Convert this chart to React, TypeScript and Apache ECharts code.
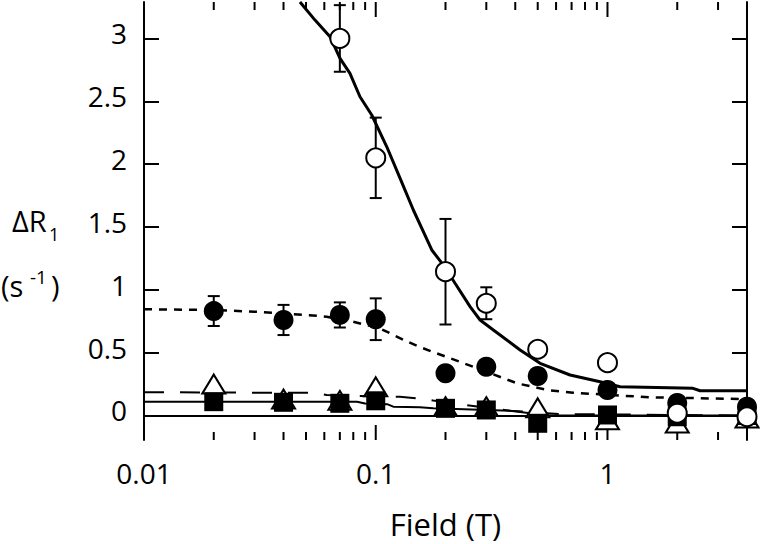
import React, { useEffect, useRef } from "react";
import * as echarts from "echarts";

// ---- axis ticks ----
const yTickValues = [0, 0.5, 1, 1.5, 2, 2.5, 3];
const xMajorTicks = [0.01, 0.1, 1];
const xMinorTicks = [0.02, 0.03, 0.04, 0.05, 0.06, 0.07, 0.08, 0.09, 0.2, 0.3, 0.4, 0.5, 0.6, 0.7, 0.8, 0.9, 2, 3];

// ---- measured points ----
const fieldT = [0.02, 0.04, 0.07, 0.1, 0.2, 0.3, 0.5, 1, 2, 4];
const openX = [0.07, 0.1, 0.2, 0.3, 0.5, 1, 2, 4];
const openY = [3.0, 2.05, 1.144, 0.893, 0.527, 0.42, 0.018, -0.01];
const openErr = [0.265, 0.32, 0.42, 0.127, 0, 0, 0, 0];
const filledY = [0.831, 0.76, 0.8, 0.766, 0.336, 0.388, 0.314, 0.203, 0.1, 0.07];
const filledErr = [0.119, 0.12, 0.1, 0.166, 0, 0, 0, 0, 0, 0];
const squareY = [0.11, 0.105, 0.097, 0.117, 0.057, 0.044, -0.062, 0.004, -0.01, 0.0];
const triangleY = [0.25, 0.13, 0.12, 0.228, 0.07, 0.07, 0.061, -0.034, -0.06, -0.02];

// ---- fitted curves ----
const solidFitX = [0.0471, 0.0547, 0.0635, 0.0701, 0.0774, 0.0855, 0.0961, 0.1116, 0.1274, 0.1453, 0.1745, 0.1958, 0.2199, 0.2553, 0.282, 0.3218, 0.4197, 0.5118, 0.6896, 0.929, 1.133, 2.34, 2.51, 4.0];
const solidFitY = [3.29, 3.146, 3.014, 2.842, 2.722, 2.536, 2.391, 2.138, 1.887, 1.635, 1.317, 1.197, 1.052, 0.866, 0.76, 0.68, 0.521, 0.415, 0.322, 0.269, 0.229, 0.216, 0.197, 0.197];
const dashFitX = [0.01, 0.02, 0.03, 0.05, 0.0614, 0.08, 0.104, 0.136, 0.155, 0.177, 0.238, 0.407, 0.549, 0.711, 1.03, 1.53, 4.0];
const dashFitY = [0.845, 0.84, 0.826, 0.8, 0.786, 0.746, 0.694, 0.59, 0.545, 0.505, 0.418, 0.256, 0.203, 0.181, 0.163, 0.145, 0.13];
const longDashX = [0.01, 0.055, 0.0614, 0.112, 0.127, 0.155, 0.177, 0.29, 0.38, 0.64, 0.78, 4.0];
const longDashY = [0.185, 0.18, 0.163, 0.15, 0.15, 0.135, 0.12, 0.065, 0.038, 0.01, 0.01, 0.0];
const squareFitX = [0.01, 0.083, 0.09, 0.112, 0.119, 0.155, 0.177, 0.38, 0.464, 0.548, 4.0];
const squareFitY = [0.11, 0.11, 0.095, 0.09, 0.07, 0.065, 0.057, 0.038, 0.017, 0.0, 0.0];

const FONT = '"Open Sans", sans-serif';

const zip = (xs: number[], ys: number[]) => xs.map((x, i) => [x, ys[i]]);

export default function App() {
  const ref = useRef<HTMLDivElement>(null);
  useEffect(() => {
    if (!ref.current) return;
    const chart = echarts.init(ref.current, undefined, { renderer: "svg" });

    const errOpen = openX
      .map((x, i) => [x, openY[i] - openErr[i], openY[i] + openErr[i]])
      .filter((_, i) => openErr[i] > 0);
    const errFilled = fieldT
      .map((x, i) => [x, filledY[i] - filledErr[i], filledY[i] + filledErr[i]])
      .filter((_, i) => filledErr[i] > 0);

    const black = "#000";
    const xBase = (pos: string, labels: boolean) => ({
      type: "log",
      logBase: 10,
      min: 0.01,
      max: 4,
      position: pos,
      axisLine: { show: true, lineStyle: { color: black, width: 2 } },
      axisTick: { show: false },
      axisLabel: {
        show: labels,
        customValues: xMajorTicks,
        formatter: (v: number) => String(v),
        color: black,
        fontFamily: FONT,
        fontSize: 28,
        margin: 19,
      },
      splitLine: { show: false },
      minorTick: { show: false },
    });

    const errRender = (params: any, api: any) => {
      const x = api.value(0);
      const lo = api.coord([x, api.value(1)]);
      const hi = api.coord([x, api.value(2)]);
      const w = 6;
      const st = { stroke: black, lineWidth: 2 };
      return {
        type: "group",
        children: [
          { type: "line", shape: { x1: lo[0], y1: lo[1], x2: hi[0], y2: hi[1] }, style: st },
          { type: "line", shape: { x1: lo[0] - w, y1: lo[1], x2: lo[0] + w, y2: lo[1] }, style: st },
          { type: "line", shape: { x1: hi[0] - w, y1: hi[1], x2: hi[0] + w, y2: hi[1] }, style: st },
        ],
      };
    };

    const tickRender = (len: number) => (params: any, api: any) => {
      const cs = params.coordSys;
      const px = api.coord([api.value(0), 1])[0];
      const st = { stroke: black, lineWidth: 2 };
      const yb = cs.y + cs.height;
      return {
        type: "group",
        children: [
          { type: "line", shape: { x1: px, y1: yb, x2: px, y2: yb - len }, style: st },
          { type: "line", shape: { x1: px, y1: cs.y, x2: px, y2: cs.y + len }, style: st },
        ],
      };
    };

    const tickSeries = (vals: number[], len: number) => ({
      type: "custom",
      renderItem: tickRender(len),
      data: vals.map((v) => [v, 1]),
      encode: { x: 0, y: 1 },
      z: 1,
      silent: true,
      clip: false,
    });

    const lineSeries = (data: number[][], type: any, width: number) => ({
      type: "line",
      data,
      showSymbol: false,
      symbol: "none",
      smooth: false,
      lineStyle: { color: black, width, type },
      silent: true,
      z: 2,
    });

    const scatter = (data: number[][], symbol: string, size: any, fill: string, z: number) => ({
      type: "scatter",
      data,
      symbol,
      symbolSize: size,
      itemStyle: { color: fill, borderColor: black, borderWidth: fill === black ? 0 : 2, opacity: 1 },
      z,
      silent: true,
    });

    const txt = (x: number, y: number, text: string, size: number, align = "left") => ({
      type: "text",
      x,
      y,
      style: {
        text,
        font: `${size}px ${FONT}`,
        fill: black,
        align,
        textAlign: align,
        verticalAlign: "middle",
        textVerticalAlign: "middle",
      },
    });

    chart.setOption({
      animation: false,
      backgroundColor: "#fff",
      grid: { left: 144, top: 2, right: 13, bottom: 104, containLabel: false },
      xAxis: [xBase("bottom", true), xBase("top", false)],
      yAxis: [0, 1].map((i) => ({
        type: "value",
        min: -0.195,
        max: 3.29,
        position: i === 0 ? "left" : "right",
        axisLine: { show: true, lineStyle: { color: black, width: 2 } },
        axisTick: {
          show: true,
          inside: true,
          length: 15,
          customValues: yTickValues,
          lineStyle: { color: black, width: 2 },
        },
        axisLabel: {
          show: i === 0,
          customValues: yTickValues,
          formatter: (v: number) => String(v),
          color: black,
          fontFamily: FONT,
          fontSize: 28,
          margin: 17,
          verticalAlign: "bottom",
          lineHeight: 10,
        },
        splitLine: { show: false },
      })),
      graphic: [
        txt(12, 220, "ΔR", 29),
        txt(49, 234, "1", 18),
        txt(1, 285, "(s", 29),
        txt(30, 277, "-1", 19),
        txt(51, 285, ")", 29),
        txt(445.5, 524, "Field (T)", 31, "center"),
      ],
      series: [
        tickSeries(xMajorTicks, 15),
        tickSeries(xMinorTicks, 8),
        lineSeries(zip(solidFitX, solidFitY), "solid", 3),
        lineSeries(zip(dashFitX, dashFitY), [8, 7], 2.5),
        lineSeries(zip(longDashX, longDashY), [20, 16], 2),
        lineSeries(zip(squareFitX, squareFitY), "solid", 2),
        {
          type: "custom",
          renderItem: errRender,
          data: [...errOpen, ...errFilled],
          encode: { x: 0, y: [1, 2] },
          z: 3,
          silent: true,
        },
        scatter(zip(fieldT, triangleY), "triangle", [23, 19], "#fff", 4),
        scatter(zip(fieldT, squareY), "rect", 19, black, 5),
        scatter(zip(fieldT, filledY), "circle", 20, black, 6),
        scatter(zip(openX, openY), "circle", 19, "#fff", 7),
      ],
    });
    return () => chart.dispose();
  }, []);
  return (
    <div
      ref={ref}
      style={{ position: "absolute", left: 0, top: 0, width: 760, height: 544, background: "#fff" }}
    />
  );
}
